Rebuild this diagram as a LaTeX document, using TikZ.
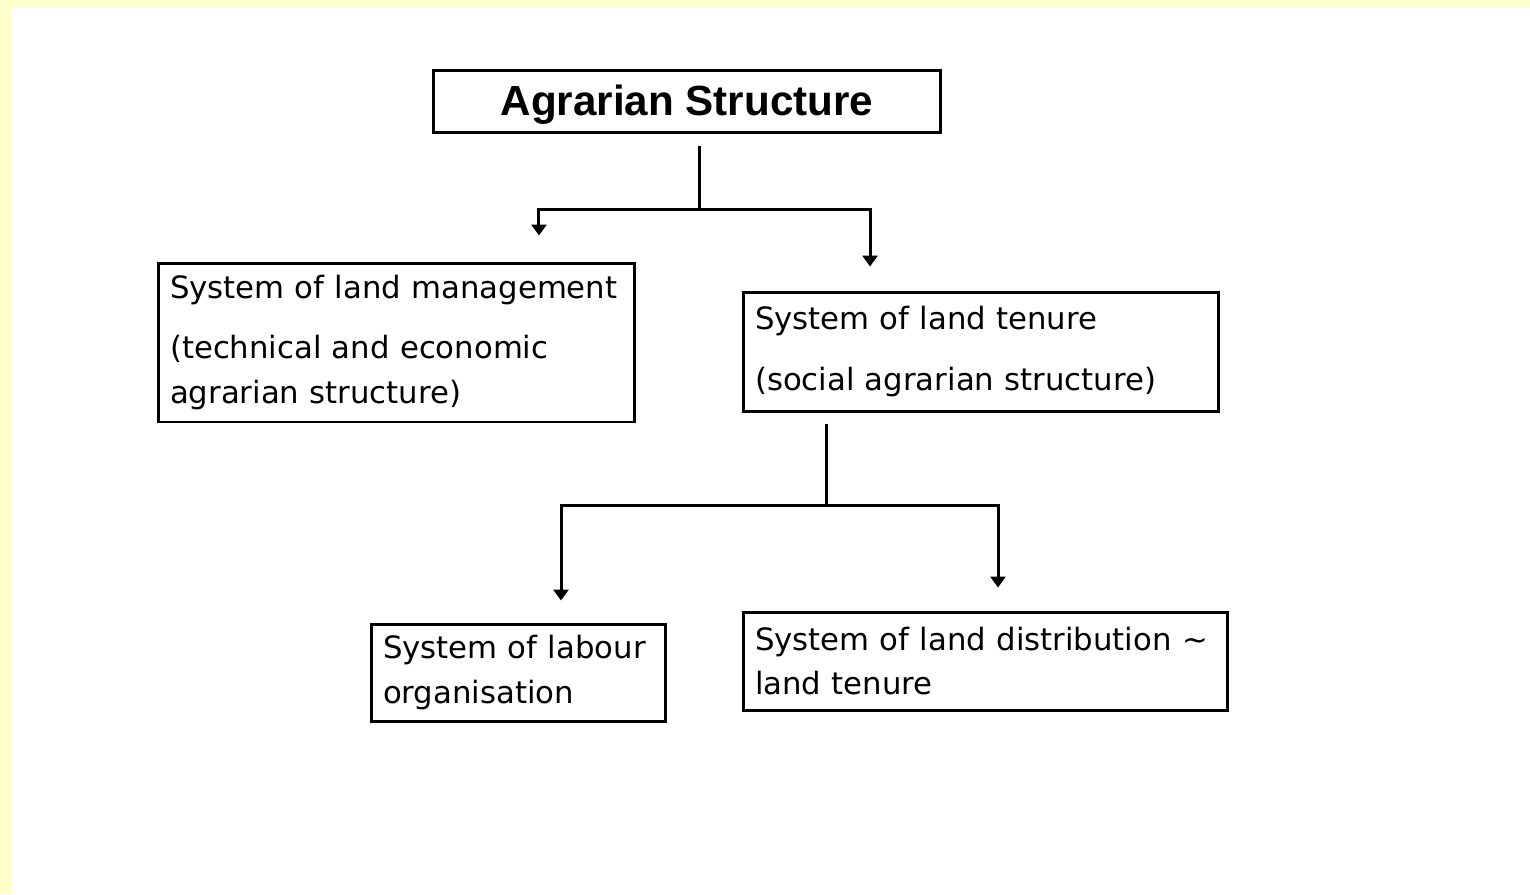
\documentclass[tikz,border=0pt]{standalone}
\usepackage{fontspec}
\setmainfont{DejaVu Sans}
\newfontfamily\titlefont{Liberation Sans}
\usetikzlibrary{arrows.meta}

\definecolor{paper}{RGB}{255,255,204}

\begin{document}
\begin{tikzpicture}[x=0.02cm, y=-0.02cm, line width=0.06cm,
  box/.style={draw, rectangle, align=left, inner xsep=0.24cm, inner ysep=0pt, font=\fontsize{17.5}{25.5}\selectfont},
  link/.style={-{Triangle[length=0.22cm, width=0.3cm]}}]
\fill[paper] (0,0) rectangle (1530,894);
\fill[white] (12,7) rectangle (1530,894);

\node[draw, minimum width=10.16cm, minimum height=1.24cm, text height=0.76cm, font=\titlefont\bfseries\fontsize{24}{28}\selectfont] (agr) at (687,101) {Agrarian Structure};
\node[box, text width=9.06cm, minimum height=3.18cm] (mgmt) at (396.5,342.5) {System of land management\\[0.32cm] (technical and economic\\ agrarian structure)};
\node[box, text width=9.04cm, minimum height=2.38cm] (tenure) at (981,351.5) {System of land tenure\\[0.32cm] (social agrarian structure)};
\node[box, text width=5.42cm, minimum height=1.94cm] (labour) at (518.5,672.5) {System of labour\\ organisation};
\node[box, text width=9.22cm, minimum height=1.96cm] (distrib) at (985.5,661) {System of land distribution \textasciitilde\\ land tenure};

\coordinate (fork1) at (699,209);
\coordinate (fork2) at (826,505);

\draw[shorten <=0.24cm] (agr.south -| fork1) -- (fork1);
\draw[link, shorten >=0.52cm] (fork1) -| ([xshift=2.85cm]mgmt.north);
\draw[link, shorten >=0.48cm] (fork1) -| ([xshift=-2.22cm]tenure.north);

\draw[shorten <=0.22cm] (tenure.south -| fork2) -- (fork2);
\draw[link, shorten >=0.44cm] (fork2) -| ([xshift=0.85cm]labour.north);
\draw[link, shorten >=0.46cm] (fork2) -| ([xshift=0.25cm]distrib.north);
\end{tikzpicture}
\end{document}
